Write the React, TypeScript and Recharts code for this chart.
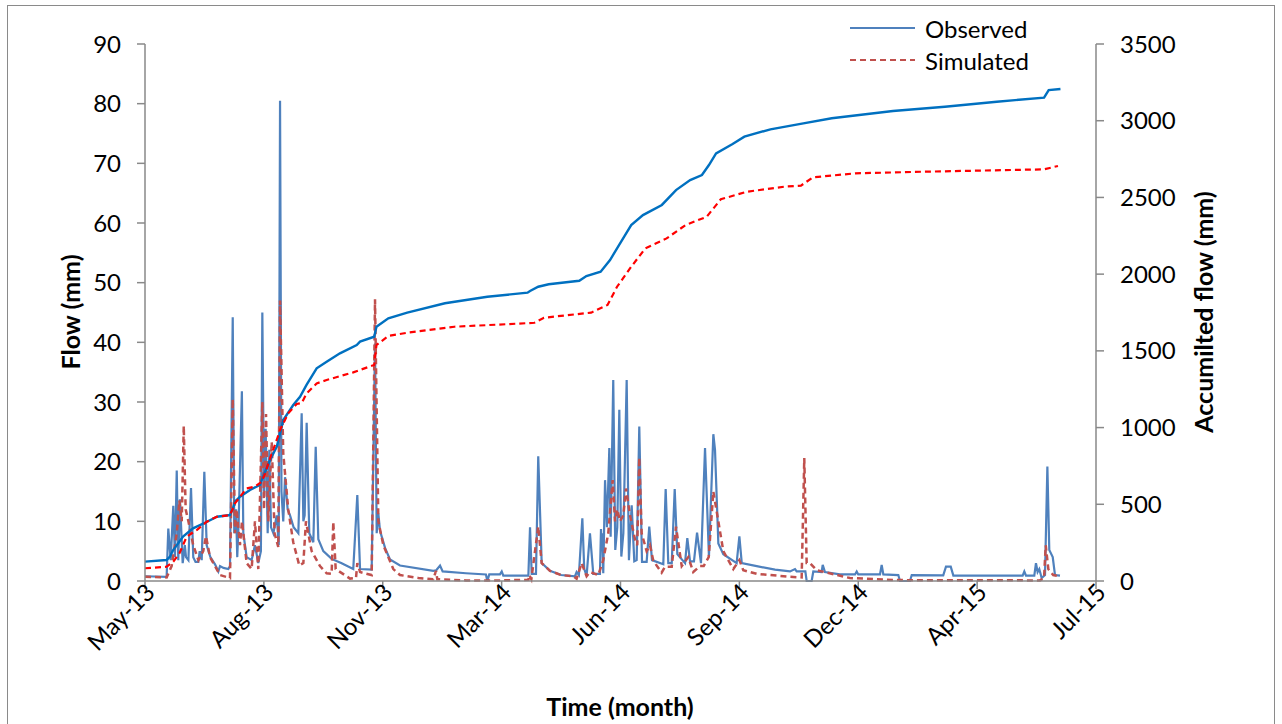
import React from 'react';
import { LineChart, Line, XAxis, YAxis } from 'recharts';

// x values are days counted from the first tick (May-13); ticks every 100 days
const xTicks = [0, 100, 200, 300, 400, 500, 600, 700, 800];
const xTickLabels = ['May-13', 'Aug-13', 'Nov-13', 'Mar-14', 'Jun-14', 'Sep-14', 'Dec-14', 'Apr-15', 'Jul-15'];
const flowTicks = [0, 10, 20, 30, 40, 50, 60, 70, 80, 90];
const accTicks = [0, 500, 1000, 1500, 2000, 2500, 3000, 3500];

// [day, flow mm]
const observedFlow: [number, number][] = [
  [0, 0.8], [18.2, 0.7], [19.6, 8.8], [21.6, 3.5], [23.8, 12.6], [25.2, 4], [26.7, 18.5], [28, 3.5], [29.4, 13.7], [31.7, 3],
  [33.5, 6], [34.5, 4], [36.5, 3.5], [38.7, 15.6], [40.6, 4], [42.5, 3.2], [44.9, 3.2], [46, 5], [47.7, 3.5], [49.9, 18.3],
  [51.9, 6], [55, 4], [58.9, 2.8], [61.7, 1.6], [63.1, 2.5], [66, 2.2], [70.1, 2], [71.5, 2.5], [73.8, 44.2], [75.1, 8],
  [76.6, 12], [77.6, 4], [78.8, 10], [81.5, 31.8], [82.7, 8], [85.5, 4], [89.7, 3.5], [92.5, 6], [95.3, 3], [97.5, 5],
  [98.7, 45], [100.1, 15], [101.5, 25.5], [103.2, 8], [104.6, 22], [106, 9], [108, 8], [110.8, 11], [112.5, 6], [113.6, 80.5],
  [114.8, 15], [116.3, 10], [117.8, 17.4], [120, 12], [122, 11], [125, 9], [129, 8], [131.8, 28.1], [133.2, 10], [134.3, 11],
  [136, 26.5], [138.2, 8], [141.6, 6.5], [143.6, 22.5], [145.8, 7], [150, 5], [157, 3.7], [165, 3], [175.2, 2.0], [178.6, 14.4],
  [180.9, 2.0], [190.7, 1.9], [193.5, 39.8], [194.9, 8], [196.3, 11.3], [197.7, 8.4], [202, 5.5], [206.1, 3.6], [214.5, 2.6], [242.5, 1.7],
  [245, 1.8], [248.2, 2.6], [250.4, 1.6], [270, 1.3], [286.8, 1.1], [288, 0], [289.6, 1.1], [298.6, 1.1], [300.1, 1.6], [301.4, 0.9],
  [322.5, 0.9], [323.9, 9], [325.3, 1.2], [328.9, 1.2], [330.8, 20.9], [333.7, 3], [340.7, 1.7], [350, 1.0], [361.7, 0.8], [363.1, 1.5],
  [365, 1], [367.9, 10.5], [369.5, 2], [371.5, 0.9], [374.3, 8], [377.1, 1.2], [382.7, 1.2], [383.6, 8.7], [384.2, 5], [384.7, 8],
  [385.5, 1.3], [387, 16.9], [387.8, 13], [388.6, 9], [389.2, 13], [390.6, 22.3], [391.7, 7.4], [393.9, 33.7], [395.6, 5.2], [397.3, 9],
  [399, 28.7], [400.7, 4.1], [402.4, 8], [405.2, 33.7], [407.1, 3.5], [409.4, 12.7], [411.6, 3.3], [413.6, 3.5], [415.8, 25.9], [418.1, 3.2],
  [422, 3.2], [424.2, 9.1], [426.5, 3.5], [436, 2.8], [438, 15.4], [440.2, 3], [443.1, 3], [445.6, 15.4], [447.8, 4.5], [454.3, 3],
  [456.2, 7.2], [458.5, 3.3], [461.8, 3.3], [464.4, 8.1], [467.7, 3], [471.1, 22.3], [474.4, 4.1], [478.1, 24.6], [479.5, 22], [482.3, 6.3],
  [486.5, 4.5], [497.7, 3.0], [500, 7.5], [502, 3], [514.6, 2.5], [530, 1.9], [542.6, 1.6], [546.8, 2.0], [548.2, 1.6], [555.5, 1.6],
  [556.6, 0], [560.8, 0], [562.2, 1.6], [569.2, 1.5], [570.1, 2.7], [572, 1.5], [584.6, 1.1], [597.3, 1.1], [598.7, 1.6], [600, 1.1],
  [618.3, 1.1], [619.7, 2.7], [621.1, 1.1], [633.7, 1.0], [635.1, 0], [643.5, 0], [645, 1.0], [671.5, 0.95], [673.8, 2.4], [677.8, 2.4],
  [680, 0.9], [738.3, 0.9], [739.7, 1.6], [741.1, 0.9], [748.1, 0.9], [749.5, 3], [750.9, 1.5], [752.3, 2], [754.3, 0.5], [757.1, 1],
  [759.1, 19.2], [760.7, 5.2], [763.6, 4], [765.5, 1.0], [769.7, 0.9],
];

const simulatedFlow: [number, number][] = [
  [0, 0.7], [18.2, 0.6], [22.4, 2.5], [26.7, 8], [28.9, 13.5], [30.9, 10], [32.6, 26], [34.2, 12], [36.5, 10], [40.6, 6],
  [44.9, 3.5], [49, 5], [51.3, 7.5], [54.7, 4], [63.1, 1], [71.5, 0.5], [73.8, 30.5], [75.7, 8], [77.1, 12], [79.9, 6],
  [81.6, 10], [85.5, 3], [89.7, 2], [92.5, 10], [95.3, 2], [98.7, 30], [100.1, 12], [101.8, 28], [103.7, 10], [106.6, 23.3],
  [109, 8], [112.1, 5.7], [113.6, 47], [116.3, 21.4], [120.5, 12], [124.7, 6.5], [129.8, 2.6], [133.2, 3], [135.4, 10], [140.2, 5],
  [147.2, 2.5], [152.8, 1.3], [157, 1.2], [158.4, 9.9], [160.4, 2], [172.5, 0.4], [177.5, 0.5], [178.6, 3], [180.9, 1.5], [190.7, 1],
  [193.5, 47.2], [196.3, 10], [200.5, 6], [208.9, 2], [214.5, 1.0], [230, 0.5], [242.5, 0.3], [244.8, 1.7], [245.9, 0.3], [270, 0.1],
  [300, 0.1], [322.5, 0.2], [323.3, 1], [325, 0.3], [330.8, 9.1], [333.7, 3], [340.7, 1.7], [350, 1.0], [360.3, 0.8], [363.1, 0.4],
  [367.3, 3], [371.5, 0.8], [374.3, 1.5], [381.3, 1.0], [385.5, 3.5], [389.7, 8], [393.4, 16.9], [395.4, 10], [397.3, 12], [399.6, 10],
  [402.4, 11], [404.6, 15.5], [408, 11], [412.2, 7], [414.1, 6], [415.8, 20.7], [417.8, 8], [422, 5], [424.8, 6], [427.6, 3.4],
  [434.6, 1.4], [437.4, 2.4], [443.1, 2.4], [446.7, 9.1], [451.5, 2.5], [457, 4], [461.2, 1.5], [466.9, 2.5], [470, 2.5], [474.2, 4],
  [478.1, 15], [482.3, 10], [486.5, 5], [494.9, 2], [500, 3.5], [503.3, 1.8], [514.6, 1.2], [542.6, 0.7], [552.4, 0.6], [554.6, 20.6],
  [556.6, 3], [559.4, 3], [565, 1.8], [593, 0.5], [632.3, 0.15], [752.9, 0.1], [756.3, 0.5], [757.7, 6], [759.9, 2], [764, 1],
  [769.7, 0.8],
];

// [day, accumulated mm]
const observedAccum: [number, number][] = [
  [0, 126], [18.2, 137], [21, 160], [23.6, 200], [32, 289], [40.4, 343], [52.2, 386], [60.6, 419], [71.5, 430], [73.8, 470],
  [75.7, 517], [79.9, 549], [88.3, 593], [96.7, 626], [99.3, 680], [105.2, 789], [110.8, 875], [113.6, 960], [116.3, 1049], [124.7, 1147],
  [130.4, 1201], [136, 1280], [144.4, 1386], [152.8, 1429], [164, 1484], [178.1, 1538], [180.9, 1560], [192.8, 1592], [194.7, 1657], [204.7, 1712],
  [220.6, 1749], [252.3, 1810], [288, 1853], [321.8, 1879], [323.9, 1890], [330.8, 1918], [339.6, 1934], [365.3, 1957], [371.3, 1988], [383.3, 2016],
  [391.2, 2092], [397.1, 2168], [403.1, 2244], [409, 2320], [418.9, 2385], [434.8, 2451], [446.7, 2548], [458.6, 2613], [468.5, 2646], [474.4, 2711],
  [480.4, 2787], [494.3, 2848], [504.2, 2896], [526.1, 2944], [553.8, 2983], [577.7, 3016], [629.2, 3063], [672.9, 3091], [716.5, 3124], [756.3, 3150],
  [760.2, 3200], [770.1, 3207],
];

const simulatedAccum: [number, number][] = [
  [0, 83], [18.2, 93], [23.8, 126], [28.9, 180], [35.1, 289], [43.5, 332], [51.9, 386], [60.3, 419], [71.5, 430], [75.7, 506],
  [85.5, 604], [92.5, 615], [98.2, 647], [101, 702], [105.2, 800], [110.8, 919], [113.6, 984], [120.5, 1093], [127.6, 1154], [131.8, 1160],
  [136, 1223], [144.4, 1288], [152.8, 1310], [175.2, 1360], [192.8, 1408], [194.7, 1538], [204.7, 1597], [220.6, 1618], [260.2, 1657], [327.6, 1683],
  [335.6, 1716], [375.3, 1749], [389.1, 1799], [397.1, 1918], [409, 2048], [420.9, 2168], [438.8, 2233], [454.7, 2320], [472.5, 2374], [484.4, 2488],
  [506.2, 2537], [537.9, 2570], [551.8, 2577], [561.8, 2631], [597.5, 2657], [657, 2668], [696.7, 2674], [756.3, 2683], [768, 2705],
];

const toRows = (pts: [number, number][]) => pts.map(([d, v]) => ({ d, v }));

const FONT = 'Lato, "Open Sans", sans-serif';
const AXIS = '#898989';

const XTick = (props: any) => {
  const { x, y, payload } = props;
  const i = xTicks.indexOf(payload.value);
  return (
    <g transform={`translate(${x},${y})`}>
      <text x={6} y={10} textAnchor="end" transform="rotate(-45)" fill="#000" fontSize={24} fontFamily={FONT}>
        {xTickLabels[i]}
      </text>
    </g>
  );
};

export default function App() {
  return (
    <div style={{ position: 'absolute', left: 0, top: 0, width: 1282, height: 724, background: '#fff', overflow: 'hidden' }}>
      <div style={{ position: 'absolute', left: 7, top: 5, width: 1268, height: 730, border: '1.5px solid #8a8a8a', boxSizing: 'border-box' }} />
      <LineChart width={1282} height={724} margin={{ top: 44, left: 85, right: 106, bottom: 83 }} style={{ position: 'absolute', left: 0, top: 0 }}>
        <XAxis
          type="number"
          dataKey="d"
          domain={[0, 800]}
          ticks={xTicks}
          allowDataOverflow
          height={60}
          tick={<XTick />}
          tickSize={8}
          axisLine={{ stroke: AXIS, strokeWidth: 1.5 }}
          tickLine={{ stroke: AXIS, strokeWidth: 1.5 }}
        />
        <YAxis
          yAxisId="flow"
          domain={[0, 90]}
          ticks={flowTicks}
          width={60}
          tickSize={8}
          tickMargin={16}
          axisLine={{ stroke: AXIS, strokeWidth: 1.5 }}
          tickLine={{ stroke: AXIS, strokeWidth: 1.5 }}
          tick={{ fill: '#000', fontSize: 24, fontFamily: FONT }}
        />
        <YAxis
          yAxisId="acc"
          orientation="right"
          domain={[0, 3500]}
          ticks={accTicks}
          width={80}
          tickSize={8}
          tickMargin={16}
          axisLine={{ stroke: AXIS, strokeWidth: 1.5 }}
          tickLine={{ stroke: AXIS, strokeWidth: 1.5 }}
          tick={{ fill: '#000', fontSize: 24, fontFamily: FONT, textAnchor: 'start' }}
        />
        <Line yAxisId="flow" data={toRows(observedFlow)} dataKey="v" name="Observed" stroke="#4F81BD" strokeWidth={2.2} dot={false} activeDot={false} isAnimationActive={false} />
        <Line yAxisId="flow" data={toRows(simulatedFlow)} dataKey="v" name="Simulated" stroke="#C0504D" strokeWidth={2.5} strokeDasharray="6 4" dot={false} activeDot={false} isAnimationActive={false} />
        <Line yAxisId="acc" data={toRows(observedAccum)} dataKey="v" name="Observed accumulated" stroke="#0070C0" strokeWidth={2.4} dot={false} activeDot={false} isAnimationActive={false} />
        <Line yAxisId="acc" data={toRows(simulatedAccum)} dataKey="v" name="Simulated accumulated" stroke="#FF0000" strokeWidth={2.2} strokeDasharray="6 4" dot={false} activeDot={false} isAnimationActive={false} />
      </LineChart>
      <svg width={1282} height={724} style={{ position: 'absolute', left: 0, top: 0, pointerEvents: 'none' }}>
        <text x={70} y={312} transform="rotate(-90 70 312)" textAnchor="middle" dominantBaseline="central" fontSize={25} fontWeight="bold" fontFamily={FONT} fill="#000">Flow (mm)</text>
        <text x={1203} y={312} transform="rotate(-90 1203 312)" textAnchor="middle" dominantBaseline="central" fontSize={25} fontWeight="bold" fontFamily={FONT} fill="#000">Accumilted flow (mm)</text>
        <text x={620} y={706} textAnchor="middle" dominantBaseline="central" fontSize={25} fontWeight="bold" fontFamily={FONT} fill="#000">Time (month)</text>
        <line x1={850} y1={28} x2={915} y2={28} stroke="#4F81BD" strokeWidth={2} />
        <text x={925} y={28} dominantBaseline="central" fontSize={24} fontFamily={FONT} fill="#000">Observed</text>
        <line x1={850} y1={60} x2={915} y2={60} stroke="#C0504D" strokeWidth={2} strokeDasharray="6 4" />
        <text x={925} y={60} dominantBaseline="central" fontSize={24} fontFamily={FONT} fill="#000">Simulated</text>
      </svg>
    </div>
  );
}
